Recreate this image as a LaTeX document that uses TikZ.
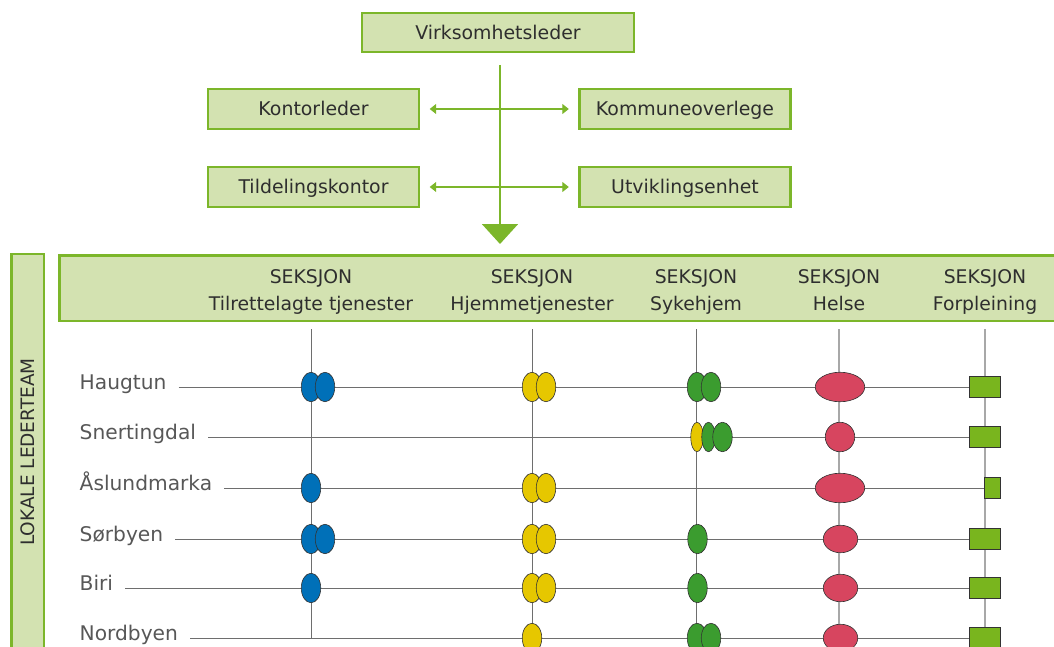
\documentclass[tikz,border=0pt]{standalone}
\usepackage{fontspec}
\setmainfont{DejaVu Sans}
\usetikzlibrary{arrows.meta,shapes.geometric}

\definecolor{boxfill}{HTML}{D3E2B1}
\definecolor{boxline}{HTML}{7CB62A}
\definecolor{txtgray}{HTML}{2E2E2E}
\definecolor{lblgray}{HTML}{575757}
\definecolor{linegray}{HTML}{6E6E6E}
\definecolor{palegray}{HTML}{A8A8A8}
\definecolor{tblue}{HTML}{0070B8}
\definecolor{tyellow}{HTML}{E6C700}
\definecolor{tgreen}{HTML}{3B9C2F}
\definecolor{tred}{HTML}{D7455F}
\definecolor{tlime}{HTML}{79B51E}

\tikzset{
  orgbox/.style={draw=boxline, line width=2.4pt, fill=boxfill, text=txtgray,
    inner sep=0pt, minimum width=211pt, minimum height=39.5pt,
    text height=13.6pt, text depth=0pt,
    font=\fontsize{18.9}{20}\selectfont},
  band/.style={draw=boxline, line width=2.5pt, fill=boxfill, inner sep=0pt},
  seksjon/.style={anchor=base, inner sep=0pt, text=txtgray,
    font=\fontsize{18.8}{20}\selectfont},
  rowlabel/.style={anchor=mid west, inner sep=0pt, text=lblgray,
    font=\fontsize{20.2}{22}\selectfont},
  mainarrow/.style={draw=boxline, line width=2pt, -{Triangle[width=36pt,length=20pt]}},
  sidearrow/.style={draw=boxline, line width=1.2pt,
    {Triangle[width=10pt,length=6.5pt]}-{Triangle[width=10pt,length=6.5pt]}},
  rowline/.style={draw=linegray, line width=1pt},
  colline/.style={draw=linegray, line width=1pt},
  paleline/.style={draw=palegray, line width=1.6pt},
  dot/.style={ellipse, draw=black!80, line width=0.6pt, inner sep=0pt,
    minimum width=19.5pt, minimum height=29.5pt},
  bluedot/.style={dot, fill=tblue},
  yellowdot/.style={dot, fill=tyellow},
  greendot/.style={dot, fill=tgreen},
  reddot/.style={dot, fill=tred},
  sqbox/.style={draw=black!80, line width=0.8pt, fill=tlime, inner sep=0pt,
    anchor=east, minimum height=21.2pt},
}

\begin{document}
\begin{tikzpicture}[x=1pt, y=-1pt]
\useasboundingbox (0,0) rectangle (1054,647);

% top of the organisation
\node[orgbox, minimum width=272pt] (boss) at (498,32.5) {Virksomhetsleder};
\node[orgbox] (kontor) at (313.5,109) {Kontorleder};
\node[orgbox] (overlege) at (685,109) {Kommuneoverlege};
\node[orgbox] (tildel) at (313.5,187) {Tildelingskontor};
\node[orgbox] (utvikl) at (685,187) {Utviklingsenhet};

\coordinate (arrstart) at (500,65);
\coordinate (arrtip) at (500,244);
\draw[mainarrow] (arrstart) -- (arrtip);
\draw[sidearrow] ([xshift=9.5pt]kontor.east) -- ([xshift=-9.5pt]overlege.west);
\draw[sidearrow] ([xshift=9.5pt]tildel.east) -- ([xshift=-9.5pt]utvikl.west);

% section band and local teams
\node[band, anchor=north west, minimum width=1030pt, minimum height=65.5pt]
  (header) at (58.2,254.2) {};
\node[band, rotate=90, minimum width=396pt, minimum height=32.5pt,
  text=txtgray, font=\fontsize{18.5}{20}\selectfont] (lokale) at (27.5,452)
  {LOKALE LEDERTEAM};

\foreach \nm/\x/\txt in {tt/311/Tilrettelagte tjenester, hj/532/Hjemmetjenester,
    sy/696/Sykehjem, he/839/Helse, fo/985/Forpleining}{
  \node[seksjon] (\nm-s) at (\x,283) {SEKSJON};
  \node[seksjon] (\nm) at (\x,310) {\txt};
  \coordinate (\nm-top) at (\x,329);
}
\draw[colline] (tt-top) -- (311,638);
\draw[colline] (hj-top) -- (532,660);
\draw[colline] (sy-top) -- (696,660);
\draw[paleline] (he-top) -- (839,660);
\draw[paleline] (fo-top) -- (985,660);

% rows
\foreach \nm/\lbl/\y/\w in {hau/Haugtun/387/31, sne/Snertingdal/437/31,
    asl/Åslundmarka/488/15.5, sor/Sørbyen/539/31, bir/Biri/588/31,
    nor/Nordbyen/638/31}{
  \node[rowlabel] (\nm) at (79.5,\y) {\lbl};
  \node[sqbox, minimum width=\w pt] (\nm-sq) at (1000.5,\y) {};
  \draw[rowline] ([xshift=12pt]\nm.mid east) -- (\nm-sq.west);
}

% Haugtun
\node[bluedot] (hau-tt1) at (311,387) {};
\node[bluedot] (hau-tt2) at (325,387) {};
\node[yellowdot] (hau-hj1) at (532,387) {};
\node[yellowdot] (hau-hj2) at (546,387) {};
\node[greendot] (hau-sy1) at (697,387) {};
\node[greendot] (hau-sy2) at (711,387) {};
\node[reddot, minimum width=49.5pt] (hau-he) at (840,387) {};
% Snertingdal
\node[yellowdot, minimum width=12.5pt] (sne-sy1) at (697,437) {};
\node[greendot, minimum width=13.5pt] (sne-sy2) at (708.5,437) {};
\node[greendot] (sne-sy3) at (722.5,437) {};
\node[reddot, minimum width=29.5pt] (sne-he) at (840,437) {};
% Aaslundmarka
\node[bluedot] (asl-tt1) at (311,488) {};
\node[yellowdot] (asl-hj1) at (532,488) {};
\node[yellowdot] (asl-hj2) at (546,488) {};
\node[reddot, minimum width=49.5pt] (asl-he) at (840,488) {};
% Soerbyen
\node[bluedot] (sor-tt1) at (311,539) {};
\node[bluedot] (sor-tt2) at (325,539) {};
\node[yellowdot] (sor-hj1) at (532,539) {};
\node[yellowdot] (sor-hj2) at (546,539) {};
\node[greendot] (sor-sy1) at (697.5,539) {};
\node[reddot, minimum width=34.5pt, minimum height=27.5pt] (sor-he) at (840.5,539) {};
% Biri
\node[bluedot] (bir-tt1) at (311,588) {};
\node[yellowdot] (bir-hj1) at (532,588) {};
\node[yellowdot] (bir-hj2) at (546,588) {};
\node[greendot] (bir-sy1) at (697.5,588) {};
\node[reddot, minimum width=34.5pt, minimum height=27.5pt] (bir-he) at (840.5,588) {};
% Nordbyen
\node[yellowdot] (nor-hj1) at (532,638) {};
\node[greendot] (nor-sy1) at (697,638) {};
\node[greendot] (nor-sy2) at (711,638) {};
\node[reddot, minimum width=34.5pt, minimum height=27.5pt] (nor-he) at (840.5,638) {};
\end{tikzpicture}
\end{document}
